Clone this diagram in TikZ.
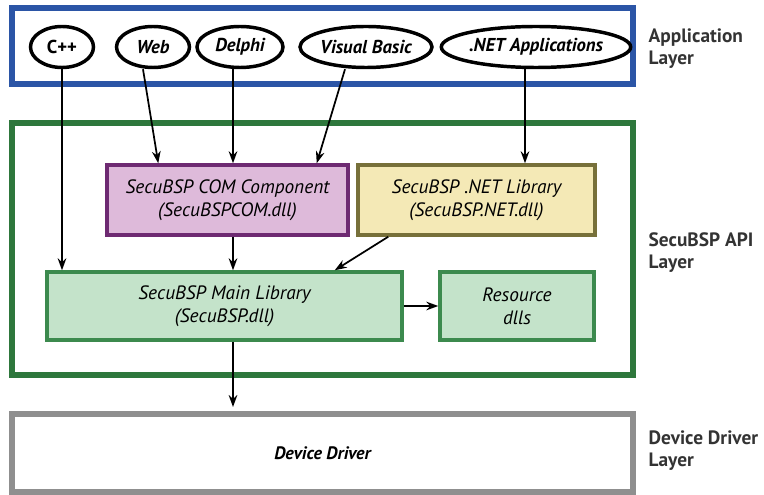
\documentclass[tikz,border=0pt]{standalone}
\usepackage{fontspec}
\setmainfont{PT Sans}
\usetikzlibrary{shapes.geometric,arrows.meta,calc}
\definecolor{appblue}{HTML}{2B55A6}
\definecolor{apigreen}{HTML}{2E773C}
\definecolor{devgray}{HTML}{8F8F8F}
\definecolor{comborder}{HTML}{6E2A72}
\definecolor{comfill}{HTML}{DEBADA}
\definecolor{netborder}{HTML}{77703A}
\definecolor{netfill}{HTML}{F4E9B6}
\definecolor{libborder}{HTML}{3C8A4E}
\definecolor{libfill}{HTML}{C4E3CA}
\tikzset{
  frame/.style={draw, line width=4.5pt, minimum width=465.75pt, inner sep=0pt},
  appel/.style={ellipse, draw=black, line width=2.6pt, fill=white, minimum height=30.75pt, inner sep=0pt,
    font=\fontsize{14}{15}\selectfont\bfseries\itshape},
  box/.style={draw, line width=2.6pt, minimum height=52.5pt, inner sep=0pt, align=center,
    font=\fontsize{14.5}{17.5}\selectfont\itshape},
  lbl/.style={anchor=west, align=left, font=\fontsize{14.5}{16.5}\selectfont\bfseries, text=black!80},
  arr/.style={line width=1.3pt, -{Stealth[length=9pt,width=6.5pt]}}
}
\begin{document}
\begin{tikzpicture}[x=0.75pt,y=-0.75pt]
\useasboundingbox (0,0) rectangle (764,495);
% layer frames
\node[frame, draw=appblue, fill=white, minimum height=57pt] (app) at (322,46.5) {};
\node[frame, draw=apigreen, fill=white, minimum height=189pt] (api) at (322.5,249) {};
\node[frame, draw=devgray, fill=white, minimum height=58.5pt, font=\fontsize{13.5}{15}\selectfont\bfseries\itshape] (dev) at (322.5,453) {Device Driver};
% layer labels
\node[lbl] (lapp) at (644,49) {Application\\Layer};
\node[lbl] (lapi) at (644,253) {SecuBSP API\\Layer};
\node[lbl] (ldev) at (644,451) {Device Driver\\Layer};
% applications
\node[appel, minimum width=47.25pt] (cpp) at (62,47) {\upshape C++};
\node[appel, minimum width=54.75pt] (web) at (153,47) {Web};
\node[appel, minimum width=64.5pt] (delphi) at (240,47) {Delphi};
\node[appel, minimum width=99pt] (vb) at (366,47) {Visual Basic};
\node[appel, minimum width=138pt] (netapp) at (536,47) {.NET Applications};
% API boxes
\node[box, draw=comborder, fill=comfill, minimum width=180.75pt] (com) at (227.5,200) {SecuBSP COM Component\\(SecuBSPCOM.dll)};
\node[box, draw=netborder, fill=netfill, minimum width=177.75pt] (netlib) at (476.5,200) {SecuBSP .NET Library\\(SecuBSP.NET.dll)};
\node[box, draw=libborder, fill=libfill, minimum width=266.25pt, minimum height=51pt] (main) at (224.5,306) {SecuBSP Main Library\\(SecuBSP.dll)};
\node[box, draw=libborder, fill=libfill, minimum width=115.5pt, minimum height=51pt] (res) at (517,306) {Resource\\dlls};
% connectors
\draw[arr] (cpp.south) -- (cpp.south |- main.north);
\draw[arr] ($(web.south)+(-10,0)$) -- ($(com.north west)+(53,0)$);
\draw[arr] ($(delphi.south)+(-7,0)$) -- ($(com.north)+(5.5,0)$);
\draw[arr] ($(vb.south)+(-21,0)$) -- ($(com.north east)+(-33,0)$);
\draw[arr] ($(netapp.south)+(-11,0)$) -- ($(netlib.north)+(48.5,0)$);
\draw[arr] ($(com.south)+(5.5,0)$) -- ($(main.north)+(8.5,0)$);
\draw[arr] ($(netlib.south west)+(32,0)$) -- ($(main.north east)+(-69,0)$);
\draw[arr] (main.east) -- (res.west);
\draw[arr] ($(main.south)+(8.5,0)$) -- ($(dev.north)+(-89.5,-4)$);
\end{tikzpicture}
\end{document}
